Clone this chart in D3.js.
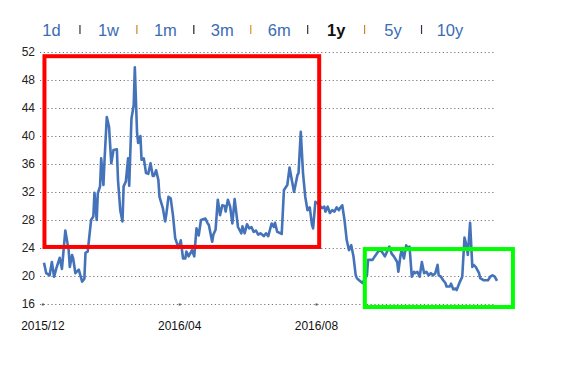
<!DOCTYPE html>
<html>
<head>
<meta charset="utf-8">
<script src="https://cdn.jsdelivr.net/npm/d3@7"></script>
<style>
  body { margin: 0; background: #fff; }
  svg { display: block; font-family: "Liberation Sans", Arial, Helvetica, sans-serif; }
  .nav-item { font-size: 16.5px; fill: #3a6cb5; }
  .nav-item.active { fill: #111; font-weight: bold; }
  .axis-label { font-size: 12px; fill: #222; }
  .grid line { stroke: #777; stroke-width: 1; stroke-dasharray: 1.2 2.6; }
</style>
</head>
<body>
<div id="chart"></div>
<script>
// range selector across the top
const ranges = ['1d', '1w', '1m', '3m', '6m', '1y', '5y', '10y'];
const activeRange = '1y';
const dividerColors = ['#333', '#c8862f', '#222', '#d8902c', '#333', '#c8862f', '#45295c'];

const dates = [
  '2015-12-02', '2015-12-04', '2015-12-07', '2015-12-09', '2015-12-11', '2015-12-13', '2015-12-16', '2015-12-18',
  '2015-12-21', '2015-12-24', '2015-12-25', '2015-12-27', '2015-12-28', '2015-12-30', '2016-01-02', '2016-01-05',
  '2016-01-07', '2016-01-08', '2016-01-10', '2016-01-13', '2016-01-15', '2016-01-16', '2016-01-18', '2016-01-19',
  '2016-01-21', '2016-01-22', '2016-01-24', '2016-01-25', '2016-01-27', '2016-01-29', '2016-01-31', '2016-02-02',
  '2016-02-05', '2016-02-06', '2016-02-08', '2016-02-10', '2016-02-11', '2016-02-13', '2016-02-15', '2016-02-16',
  '2016-02-18', '2016-02-20', '2016-02-21', '2016-02-23', '2016-02-24', '2016-02-26', '2016-02-27', '2016-02-29',
  '2016-03-02', '2016-03-04', '2016-03-06', '2016-03-08', '2016-03-09', '2016-03-11', '2016-03-13', '2016-03-14',
  '2016-03-17', '2016-03-19', '2016-03-20', '2016-03-22', '2016-03-24', '2016-03-26', '2016-03-28', '2016-03-31',
  '2016-04-02', '2016-04-04', '2016-04-06', '2016-04-07', '2016-04-09', '2016-04-12', '2016-04-14', '2016-04-16',
  '2016-04-18', '2016-04-20', '2016-04-24', '2016-04-26', '2016-04-27', '2016-04-30', '2016-05-01', '2016-05-03',
  '2016-05-05', '2016-05-07', '2016-05-09', '2016-05-11', '2016-05-12', '2016-05-14', '2016-05-16', '2016-05-18',
  '2016-05-20', '2016-05-21', '2016-05-23', '2016-05-26', '2016-05-27', '2016-05-29', '2016-05-31', '2016-06-02',
  '2016-06-04', '2016-06-06', '2016-06-08', '2016-06-10', '2016-06-12', '2016-06-15', '2016-06-17', '2016-06-19',
  '2016-06-22', '2016-06-24', '2016-06-25', '2016-06-27', '2016-06-30', '2016-07-01', '2016-07-03', '2016-07-06',
  '2016-07-08', '2016-07-10', '2016-07-12', '2016-07-15', '2016-07-16', '2016-07-18', '2016-07-20', '2016-07-22',
  '2016-07-24', '2016-07-26', '2016-07-28', '2016-07-29', '2016-07-31', '2016-08-02', '2016-08-06', '2016-08-08',
  '2016-08-09', '2016-08-11', '2016-08-13', '2016-08-15', '2016-08-17', '2016-08-19', '2016-08-21', '2016-08-22',
  '2016-08-24', '2016-08-26', '2016-08-28', '2016-08-30', '2016-09-01', '2016-09-03', '2016-09-05', '2016-09-06',
  '2016-09-08', '2016-09-11', '2016-09-15', '2016-09-16', '2016-09-20', '2016-09-22', '2016-09-25', '2016-09-27',
  '2016-09-29', '2016-10-01', '2016-10-03', '2016-10-05', '2016-10-07', '2016-10-09', '2016-10-12', '2016-10-13',
  '2016-10-15', '2016-10-16', '2016-10-18', '2016-10-20', '2016-10-21', '2016-10-23', '2016-10-25', '2016-10-27',
  '2016-10-28', '2016-10-30', '2016-11-01', '2016-11-03', '2016-11-05', '2016-11-07', '2016-11-09', '2016-11-11',
  '2016-11-13', '2016-11-15', '2016-11-17', '2016-11-18', '2016-11-20', '2016-11-22', '2016-11-24', '2016-11-25',
  '2016-11-28', '2016-11-29', '2016-12-01', '2016-12-03', '2016-12-04', '2016-12-07', '2016-12-09', '2016-12-11',
  '2016-12-13', '2016-12-14', '2016-12-16', '2016-12-18', '2016-12-19', '2016-12-21', '2016-12-24', '2016-12-25',
  '2016-12-28', '2016-12-30', '2017-01-01', '2017-01-03', '2017-01-05', '2017-01-07', '2017-01-09'
];

const prices = [
  21.9, 20.4, 20.1, 22.0, 19.9, 21.1, 22.6, 21.0,
  26.5, 23.7, 21.3, 23.0, 22.5, 20.4, 20.9, 19.2,
  19.6, 23.3, 23.5, 28.0, 28.5, 31.9, 28.0, 31.8,
  32.8, 36.8, 33.0, 36.6, 42.7, 41.3, 36.1, 38.0,
  38.1, 33.7, 29.4, 27.8, 32.8, 33.5, 36.8, 32.9,
  42.5, 44.4, 49.8, 40.4, 39.0, 40.0, 36.6, 36.8,
  34.7, 34.6, 36.1, 34.3, 34.3, 35.1, 33.7, 31.3,
  29.7, 27.8, 28.7, 31.3, 31.1, 28.7, 25.4, 24.0,
  25.1, 22.5, 22.5, 23.5, 22.8, 23.7, 22.8, 26.8,
  25.8, 28.0, 28.2, 27.5, 27.3, 24.9, 25.9, 26.6,
  30.9, 28.7, 30.1, 30.0, 29.2, 30.9, 29.9, 27.5,
  31.0, 29.7, 27.0, 26.1, 27.1, 26.1, 27.4, 26.8,
  27.0, 26.3, 26.5, 25.9, 26.1, 25.7, 26.1, 25.7,
  27.5, 27.0, 27.6, 26.3, 26.1, 26.0, 32.3, 33.0,
  35.5, 33.7, 32.0, 34.4, 34.7, 40.6, 34.7, 31.3,
  29.4, 29.8, 27.3, 26.8, 30.6, 30.4, 29.7, 29.9,
  29.2, 29.9, 29.0, 29.4, 29.2, 29.8, 29.4, 29.7,
  30.1, 28.0, 25.1, 23.7, 24.4, 22.8, 20.1, 19.7,
  19.4, 19.0, 20.1, 22.3, 22.3, 22.8, 23.5, 23.7,
  23.3, 22.8, 23.5, 24.2, 23.2, 22.8, 22.0, 20.6,
  23.0, 23.7, 22.5, 24.4, 24.0, 24.2, 19.9, 20.6,
  20.4, 20.6, 19.9, 22.0, 20.4, 20.6, 20.1, 20.4,
  20.1, 20.4, 21.6, 20.1, 19.9, 19.4, 19.0, 18.5,
  18.5, 18.9, 18.1, 18.2, 18.0, 19.2, 19.9, 25.5,
  24.2, 23.0, 27.6, 21.3, 21.6, 21.3, 20.4, 19.7,
  19.4, 19.4, 19.4, 19.9, 20.1, 19.9, 19.3
];

const yTicks = [16, 20, 24, 28, 32, 36, 40, 44, 48, 52];
const xTicks = ['2015-12-01', '2016-04-01', '2016-08-01'];

// highlight boxes drawn over the line: [from, to, top value, bottom value]
const redBox = ['2015-12-02T10', '2016-08-03T10', 51.4, 24.15];
const greenBox = ['2016-09-13T03', '2017-01-23T05', 23.85, 15.57];

const parseDay = d3.timeParse('%Y-%m-%d');
const parseHour = d3.timeParse('%Y-%m-%dT%H');
const fmtTick = d3.timeFormat('%Y/%m');

const data = dates.map((d, i) => ({ date: parseDay(d), value: prices[i] }));

const WIDTH = 574;
const HEIGHT = 376;

const svg = d3
  .select('#chart')
  .append('svg')
  .attr('width', WIDTH)
  .attr('height', HEIGHT);

// range selector
const nav = d3.scalePoint().domain(ranges).range([51.5, 450]);
const navG = svg.append('g').attr('class', 'nav');

navG
  .selectAll('text')
  .data(ranges)
  .enter()
  .append('text')
  .attr('class', d => (d === activeRange ? 'nav-item active' : 'nav-item'))
  .attr('x', d => nav(d))
  .attr('y', 36)
  .attr('text-anchor', 'middle')
  .text(d => d);

navG
  .selectAll('line')
  .data(ranges.slice(1))
  .enter()
  .append('line')
  .attr('x1', d => nav(d) - nav.step() / 2)
  .attr('x2', d => nav(d) - nav.step() / 2)
  .attr('y1', 25)
  .attr('y2', 34)
  .attr('stroke', (d, i) => dividerColors[i])
  .attr('stroke-width', 1.2);

// scales
const x = d3.scaleTime().domain(d3.extent(data, d => d.date)).range([44, 497]);
const y = d3.scaleLinear().domain([16, 52]).range([304, 52]);

// dotted horizontal grid
svg
  .append('g')
  .attr('class', 'grid')
  .selectAll('line')
  .data(yTicks)
  .enter()
  .append('line')
  .attr('x1', 40)
  .attr('x2', 495)
  .attr('y1', d => Math.round(y(d)) + 0.5)
  .attr('y2', d => Math.round(y(d)) + 0.5);

// y labels
svg
  .append('g')
  .selectAll('text')
  .data(yTicks)
  .enter()
  .append('text')
  .attr('class', 'axis-label')
  .attr('x', 35)
  .attr('y', d => y(d))
  .attr('dy', '0.36em')
  .attr('text-anchor', 'end')
  .text(d => d);

// x ticks + labels
const xG = svg.append('g');
xG.selectAll('rect')
  .data(xTicks)
  .enter()
  .append('rect')
  .attr('x', d => x(parseDay(d)) - 1)
  .attr('y', y(16) - 0.5)
  .attr('width', 2)
  .attr('height', 2)
  .attr('fill', '#555');

xG.selectAll('text')
  .data(xTicks)
  .enter()
  .append('text')
  .attr('class', 'axis-label')
  .attr('x', d => x(parseDay(d)))
  .attr('y', 330)
  .attr('text-anchor', 'middle')
  .style('fill', '#111')
  .text(d => fmtTick(parseDay(d)));

// price line
const line = d3
  .line()
  .x(d => x(d.date))
  .y(d => y(d.value));

svg
  .append('path')
  .datum(data)
  .attr('d', line)
  .attr('fill', 'none')
  .attr('stroke', '#4573b9')
  .attr('stroke-width', 2.6)
  .attr('stroke-linejoin', 'round');

// highlight boxes
function drawBox(box, color) {
  const x0 = x(parseHour(box[0]));
  const x1 = x(parseHour(box[1]));
  const y0 = y(box[2]);
  const y1 = y(box[3]);
  svg
    .append('rect')
    .attr('x', x0)
    .attr('y', y0)
    .attr('width', x1 - x0)
    .attr('height', y1 - y0)
    .attr('fill', 'none')
    .attr('stroke', color)
    .attr('stroke-width', 4);
}

drawBox(redBox, '#ff0000');
drawBox(greenBox, '#00ff00');
</script>
</body>
</html>
